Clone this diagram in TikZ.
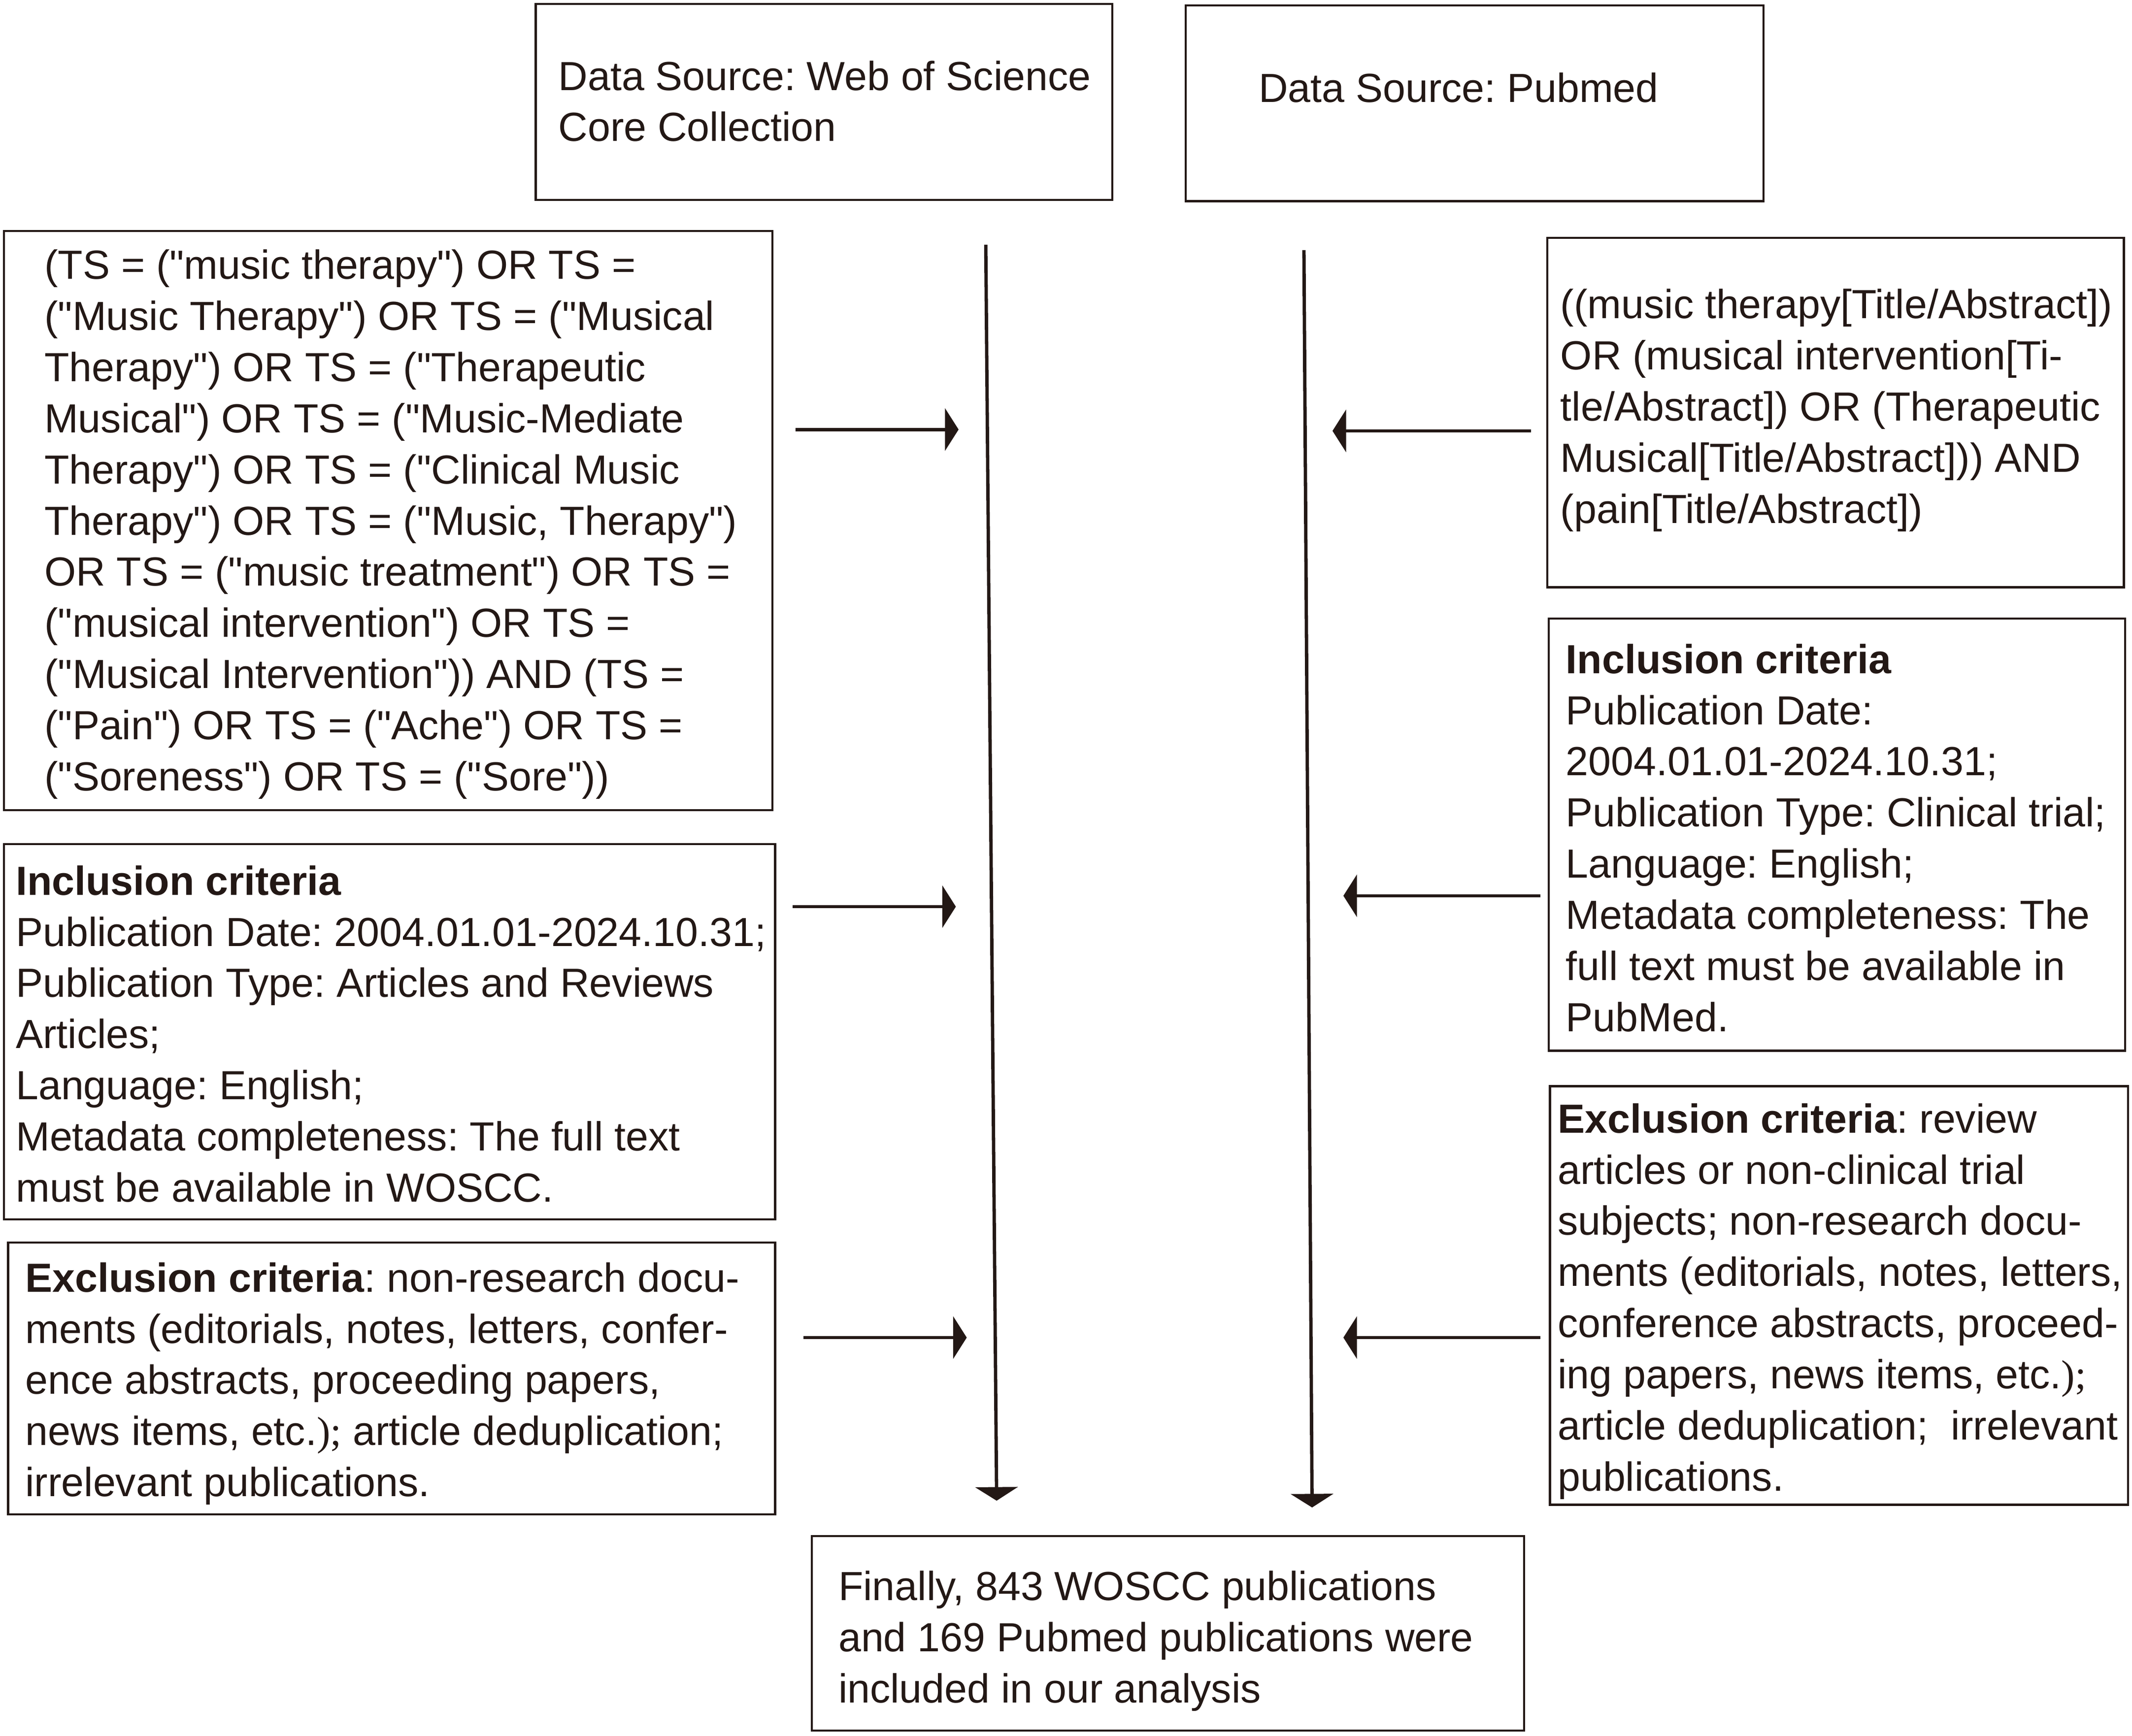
\documentclass[tikz,border=0pt]{standalone}
\usepackage{fontspec}
\setmainfont{Liberation Sans}[Ligatures=TeXOff]
\newfontfamily\serifpart{Liberation Serif}
\usetikzlibrary{arrows.meta}
\definecolor{ink}{HTML}{231815}
\frenchspacing

\begin{document}
\begin{tikzpicture}[x=.01cm,y=-.01cm,
    boxline/.style={draw=ink,line width=.45pt},
    txt/.style={anchor=north west,inner sep=0,align=left,text=ink,font=\fontsize{8.5}{10.7}\selectfont\frenchspacing},
    flow/.style={draw=ink,line width=.7pt,-{Triangle[length=.1cm,width=.31cm]}}]
\fill[white] (0,0) rectangle (1568,1277);
\useasboundingbox (0,0) rectangle (1568,1277);

% boxes
\foreach \nm/\xa/\ya/\xb/\yb in {
wos/394/3/818/147, pub/872/4/1297/148,
wosQuery/3/170/568/596, pubQuery/1138/175/1562/432,
wosIncl/3/621/570/897, pubIncl/1139/455/1563/773,
wosExcl/6/914/570/1114, pubExcl/1140/799/1565/1107,
final/597/1130/1121/1273}{
    \path (\xa,\ya) coordinate (\nm-nw) (\xb,\yb) coordinate (\nm-se);
    \draw[boxline] (\nm-nw) rectangle (\nm-se);
}

% texts
\node[txt] at (410,44)(wosTxt){Data Source: Web of Science\\Core Collection};
\node[txt] at (925,53)(pubTxt){Data Source: Pubmed};

\node[txt] at (32,183)(wosQueryTxt){(TS = ("music therapy") OR TS =\\
("Music Therapy") OR TS = ("Musical\\
Therapy") OR TS = ("Therapeutic\\
Musical") OR TS = ("Music-Mediate\\
Therapy") OR TS = ("Clinical Music\\
Therapy") OR TS = ("Music, Therapy")\\
OR TS = ("music treatment") OR TS =\\
("musical intervention") OR TS =\\
("Musical Intervention")) AND (TS =\\
("Pain") OR TS = ("Ache") OR TS =\\
("Soreness") OR TS = ("Sore"))};

\node[txt] at (1147,212)(pubQueryTxt){((music therapy[Title/Abstract])\\
OR (musical intervention[Ti-\\
tle/Abstract]) OR (Therapeutic\\
Musical[Title/Abstract])) AND\\
(pain[Title/Abstract])};

\node[txt] at (11,636)(wosInclTxt){\textbf{Inclusion criteria}\\
Publication Date: 2004.01.01-2024.10.31;\\
Publication Type: Articles and Reviews\\
Articles;\\
Language: English;\\
Metadata completeness: The full text\\
must be available in WOSCC.};

\node[txt] at (1151,473)(pubInclTxt){\textbf{Inclusion criteria}\\
Publication Date:\\
2004.01.01-2024.10.31;\\
Publication Type: Clinical trial;\\
Language: English;\\
Metadata completeness: The\\
full text must be available in\\
PubMed.};

\node[txt] at (18,928)(wosExclTxt){\textbf{Exclusion criteria}: non-research docu-\\
ments (editorials, notes, letters, confer-\\
ence abstracts, proceeding papers,\\
news items, etc.{\serifpart );} article deduplication;\\
irrelevant publications.};

\node[txt] at (1145,811)(pubExclTxt){\textbf{Exclusion criteria}: review\\
articles or non-clinical trial\\
subjects; non-research docu-\\
ments (editorials, notes, letters,\\
conference abstracts, proceed-\\
ing papers, news items, etc.{\serifpart );}\\
article deduplication;~ irrelevant\\
publications.};

\node[txt] at (616,1155)(finalTxt){Finally, 843 WOSCC publications\\
and 169 Pubmed publications were\\
included in our analysis};

% main flow lines
\coordinate (wosTop) at (725,180);
\coordinate (wosEnd) at (733,1104);
\coordinate (pubTop) at (959,184);
\coordinate (pubEnd) at (965,1109);
\draw[flow] (wosTop) -- (wosEnd);
\draw[flow] (pubTop) -- (pubEnd);

% side arrows
\foreach \nm/\xa/\xb/\y in {
q1/585/705/316, i1/583/703/667, e1/591/711/984,
q2/1126/980/317, i2/1133/988/659, e2/1133/988/984}{
    \coordinate (\nm-a) at (\xa,\y);
    \coordinate (\nm-b) at (\xb,\y);
    \draw[flow] (\nm-a) -- (\nm-b);
}
\end{tikzpicture}
\end{document}
